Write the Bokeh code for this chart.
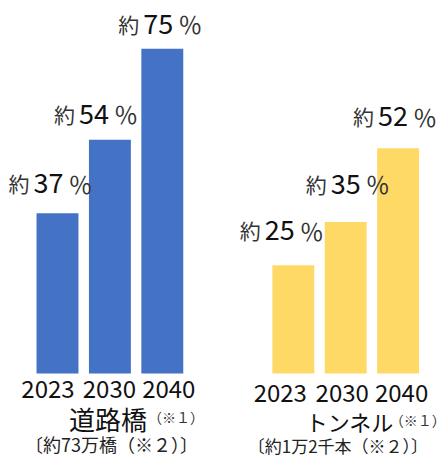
from bokeh.plotting import figure
from bokeh.models import ColumnDataSource, Range1d
from bokeh.core.properties import value
from bokeh.embed import file_html
from bokeh.resources import INLINE

# ---- data ----
years = ["2023", "2030", "2040"]
bridge_pct = [37, 54, 75]
tunnel_pct = [25, 35, 52]
bridge_title = "道路橋"
bridge_note = "（※１）"
bridge_sub = "〔約73万橋（※２）〕"
tunnel_title = "トンネル"
tunnel_note = "（※１）"
tunnel_sub = "〔約1万2千本（※２）〕"
prefix = "約"
suffix = "％"

# ---- layout / style ----
FONT = value("Noto Sans CJK JP")
BLUE = "#4472C4"
YELLOW = "#FFD966"
TXT = "#111111"
GROUP_SHIFT = 4.5
BAR_W = 0.8
TS = -9  # text baseline correction (px)

p = figure(width=447, height=457, x_range=Range1d(-1.0878, 7.4427),
           y_range=Range1d(-19.40, 86.143), output_backend="svg",
           toolbar_location=None, min_border=0,
           x_axis_type=None, y_axis_type=None)
p.grid.visible = False
p.outline_line_color = None
p.background_fill_color = "white"
p.border_fill_color = "white"

groups = [
    dict(vals=bridge_pct, shift=0.0, color=BLUE,
         lab_dx=[-49, -56, -44], lab_dy=[21, 17, 16],
         year_dx=[-9.5, -0.5, 6.5], year_dy=25,
         title=bridge_title, title_dx=-41, title_size=26, title_dy=54,
         note=bridge_note, note_dx=38, note_dy=53,
         sub=bridge_sub, sub_dx=-85, sub_dy=80, sub_size=18),
    dict(vals=tunnel_pct, shift=GROUP_SHIFT, color=YELLOW,
         lab_dx=[-53.5, -40, -45], lab_dy=[26, 29, 23],
         year_dx=[-13, -3.5, 3.5], year_dy=29,
         title=tunnel_title, title_dx=-40, title_size=22, title_dy=57,
         note=tunnel_note, note_dx=44, note_dy=56,
         sub=tunnel_sub, sub_dx=-98, sub_dy=81, sub_size=17),
]

for g in groups:
    xs = [i + g["shift"] for i in range(len(years))]
    src = ColumnDataSource(dict(
        x=xs, top=g["vals"], year=years,
        num=[str(v) for v in g["vals"]],
        pre=[prefix] * 3, suf=[suffix] * 3,
        dx_pre=g["lab_dx"],
        dx_num=[d + 25 for d in g["lab_dx"]],
        dx_suf=[d + 60 for d in g["lab_dx"]],
        dy=[-d + TS for d in g["lab_dy"]],
        ydx=g["year_dx"],
    ))
    p.vbar(x="x", top="top", bottom=0, width=BAR_W, source=src,
           fill_color=g["color"], line_color=None)
    p.text(x="x", y="top", text="pre", source=src, x_offset="dx_pre", y_offset="dy",
           text_font=FONT, text_font_size="21px", text_color="#333333",
           text_align="left", text_baseline="alphabetic")
    p.text(x="x", y="top", text="num", source=src, x_offset="dx_num", y_offset="dy",
           text_font=FONT, text_font_size="27px", text_color=TXT,
           text_align="left", text_baseline="alphabetic")
    p.text(x="x", y="top", text="suf", source=src, x_offset="dx_suf", y_offset="dy",
           text_font=FONT, text_font_size="24px", text_color="#333333",
           text_align="left", text_baseline="alphabetic")
    # year labels
    p.text(x="x", y=0, text="year", source=src, x_offset="ydx", y_offset=g["year_dy"] + TS,
           text_font=FONT, text_font_size="24px", text_color=TXT,
           text_align="center", text_baseline="alphabetic")
    mid = xs[1]
    p.text(x=[mid], y=[0], text=[g["title"]], x_offset=g["title_dx"], y_offset=g["title_dy"] + TS,
           text_font=FONT, text_font_size=f'{g["title_size"]}px', text_color=TXT,
           text_align="left", text_baseline="alphabetic")
    p.text(x=[mid], y=[0], text=[g["note"]], x_offset=g["note_dx"], y_offset=g["note_dy"] + TS,
           text_font=FONT, text_font_size="14px", text_color="#333333",
           text_align="left", text_baseline="alphabetic")
    p.text(x=[mid], y=[0], text=[g["sub"]], x_offset=g["sub_dx"], y_offset=g["sub_dy"] + TS,
           text_font=FONT, text_font_size=f'{g["sub_size"]}px', text_color="#222222",
           text_align="left", text_baseline="alphabetic")

open("out.html", "w").write(file_html(p, INLINE))
